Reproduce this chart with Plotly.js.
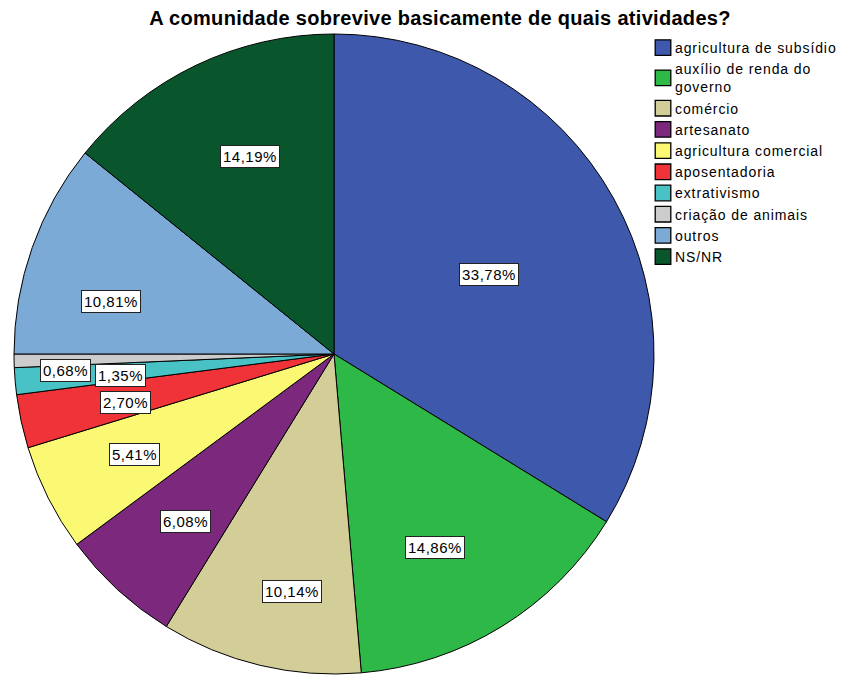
<!DOCTYPE html>
<html>
<head>
<meta charset="utf-8">
<script src="https://cdn.plot.ly/plotly-3.0.1.min.js"></script>
<style>
  html, body { margin: 0; padding: 0; background: #ffffff; }
  #chart { width: 846px; height: 677px; }
  .legend text.legendtext { letter-spacing: 0.9px; }
  .legend .scrollbox, .legend .groups { clip-path: none !important; }
  .legend path.legendpie { transform: translate(28px, 0px) scale(1.3); }
  .annotation-text { letter-spacing: 0.5px; }
  .gtitle { letter-spacing: 0.3px; }
</style>
</head>
<body>
<div id="chart"></div>
<script>
// Atividades de sobrevivência da comunidade (% das respostas)
const categories = [
  'agricultura de subsídio',
  'auxílio de renda do<br>governo',
  'comércio',
  'artesanato',
  'agricultura comercial',
  'aposentadoria',
  'extrativismo',
  'criação de animais',
  'outros',
  'NS/NR'
];
const percentages = [33.78, 14.86, 10.14, 6.08, 5.41, 2.70, 1.35, 0.68, 10.81, 14.19];
const sliceColors = ['#3E58AC', '#2EB848', '#D3CE97', '#7C287D', '#FBF873',
                     '#EF3338', '#48C2C5', '#CCCCCC', '#7AAAD5', '#0A562C'];

// Value-label placement: distance from the centre (fraction of the radius)
// and a small angular nudge (degrees) away from each slice's mid-angle
const labelRadius = [0.544, 0.683, 0.755, 0.70, 0.70, 0.67, 0.67, 0.84, 0.716, 0.67];
const labelAngleShift = [2.2, 4.1, -3.4, -1, 0, -1, -1, -2.4, -6.1, 2.5];

const W = 846, H = 677;
const domainX = [14 / W, 654 / W];
const domainY = [1 - 674 / H, 1 - 34 / H];
const cx = (domainX[0] + domainX[1]) / 2;
const cy = (domainY[0] + domainY[1]) / 2;
const radiusPx = Math.min((domainX[1] - domainX[0]) * W, (domainY[1] - domainY[0]) * H) / 2;

const fmt = v => v.toFixed(2).replace('.', ',') + '%';

// Value labels placed around each slice's mid-angle (clockwise from 12 o'clock)
const total = percentages.reduce((a, b) => a + b, 0);
let cum = 0;
const annotations = percentages.map((v, i) => {
  const mid = (cum + v / 2) / total * 2 * Math.PI + labelAngleShift[i] * Math.PI / 180;
  cum += v;
  const r = labelRadius[i] * radiusPx;
  return {
    xref: 'paper', yref: 'paper',
    x: cx + r * Math.sin(mid) / W,
    y: cy + r * Math.cos(mid) / H,
    text: fmt(v),
    showarrow: false,
    xanchor: 'center', yanchor: 'middle',
    font: {family: 'Liberation Sans, Arial, sans-serif', size: 15, color: '#000000'},
    bgcolor: '#ffffff',
    bordercolor: '#222222',
    borderwidth: 1,
    borderpad: 2
  };
});

const trace = {
  type: 'pie',
  labels: categories,
  values: percentages,
  sort: false,
  direction: 'clockwise',
  rotation: 0,
  textinfo: 'none',
  hoverinfo: 'label+percent',
  marker: {colors: sliceColors, line: {color: '#000000', width: 1}},
  domain: {x: domainX, y: domainY}
};

const layout = {
  width: W,
  height: H,
  margin: {l: 0, r: 0, t: 0, b: 0},
  paper_bgcolor: '#ffffff',
  title: {
    text: '<b>A comunidade sobrevive basicamente de quais atividades?</b>',
    font: {family: 'Liberation Sans, Arial, sans-serif', size: 20, color: '#000000'},
    x: 440 / W, xanchor: 'center',
    y: 1 - 18 / H, yanchor: 'middle'
  },
  showlegend: true,
  legend: {
    x: 635 / W, xanchor: 'left',
    y: 1 - 32 / H, yanchor: 'top',
    font: {family: 'Liberation Sans, Arial, sans-serif', size: 14, color: '#000000'},
    bgcolor: 'rgba(0,0,0,0)',
    traceorder: 'normal'
  },
  annotations: annotations
};

Plotly.newPlot('chart', [trace], layout, {displayModeBar: false, staticPlot: true});
</script>
</body>
</html>
